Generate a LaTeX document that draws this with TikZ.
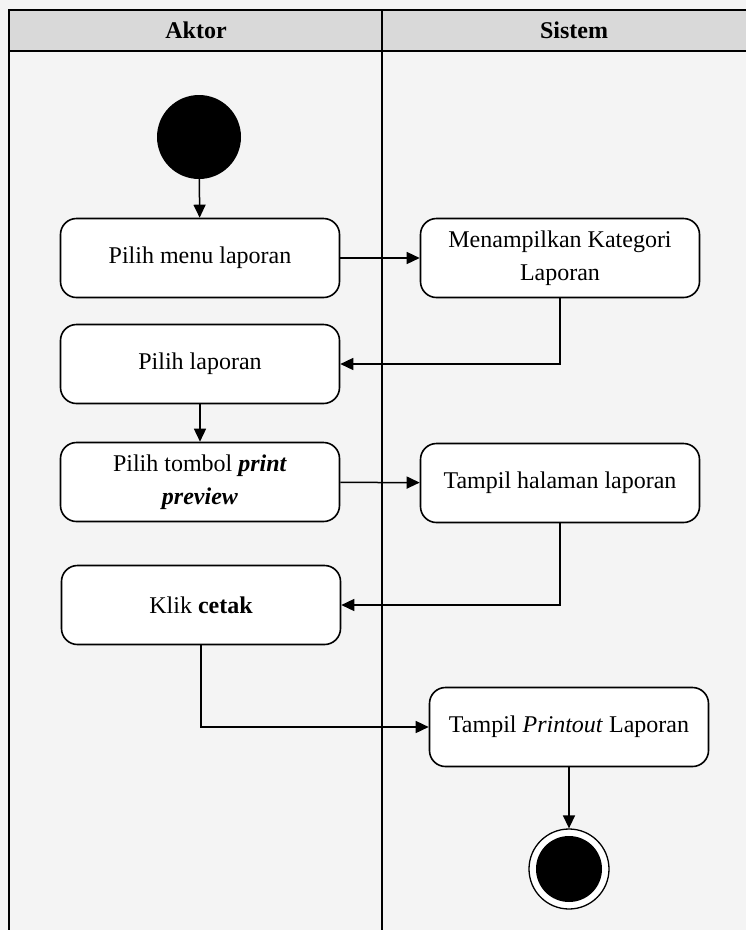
\documentclass[tikz,border=0pt]{standalone}
\usepackage{fontspec}
\setmainfont{Liberation Serif}
\usetikzlibrary{arrows.meta}
\definecolor{bg}{HTML}{F4F4F4}
\definecolor{hdr}{HTML}{D9D9D9}
\begin{document}
\begin{tikzpicture}[x=1pt,y=-1pt,
  act/.style={draw,line width=1.6pt,rounded corners=16pt,fill=white,
    minimum width=279pt,minimum height=79pt,align=center,
    font=\fontsize{24}{33}\selectfont,inner sep=2pt},
  flow/.style={line width=1.5pt,-{Triangle[length=13pt,width=12pt]}},
  lane/.style={line width=2.2pt},
  head/.style={font=\fontsize{24}{28}\selectfont\bfseries}]
\path[use as bounding box,fill=bg] (0,0) rectangle (746,930);
\draw[lane,fill=hdr] (9,10) rectangle (770,51);
\draw[lane] (9,51) -- (9,950);
\draw[lane] (382,10) -- (382,950);
\node[head] (hA) at (196,30) {Aktor};
\node[head] (hS) at (574,30) {Sistem};
\node[circle,fill=black,minimum size=84pt,inner sep=0pt] (start) at (199,137) {};
\node[act] (b1) at (200,258) {Pilih menu laporan};
\node[act] (b2) at (560,258) {Menampilkan Kategori\\Laporan};
\node[act] (b3) at (200,364) {Pilih laporan};
\node[act] (b4) at (200,482) {Pilih tombol \textbf{\textit{print}}\\\textbf{\textit{preview}}};
\node[act] (b5) at (560,483) {Tampil halaman laporan};
\node[act] (b6) at (201,605) {Klik \textbf{cetak}};
\node[act] (b7) at (569,727) {Tampil \textit{Printout} Laporan};
\node[circle,draw,line width=1.3pt,fill=white,minimum size=80pt,inner sep=0pt] (endo) at (569,869) {};
\node[circle,fill=black,minimum size=66pt,inner sep=0pt] (endi) at (569,869) {};
\draw[flow] (start) -- (b1);
\draw[flow] (b1) -- (b2);
\draw[flow] (b2.south) |- (b3.east);
\draw[flow] (b3) -- (b4);
\draw[flow] (b4) -- (b5);
\draw[flow] (b5.south) |- (b6.east);
\draw[flow] (b6.south) |- (b7.west);
\draw[flow] (b7) -- (endo);
\end{tikzpicture}
\end{document}
